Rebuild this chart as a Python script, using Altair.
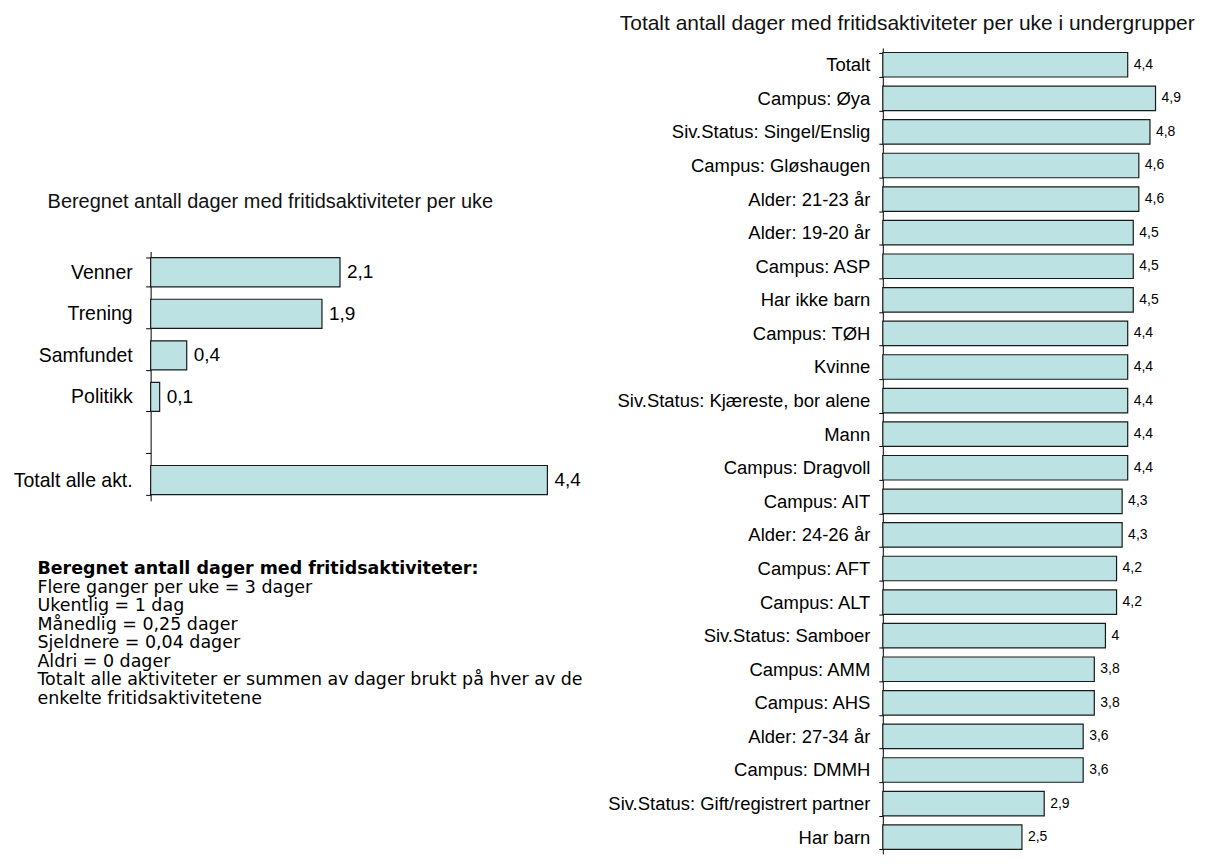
import altair as alt
import pandas as pd

# ---------------- data ----------------
left_cats = ["Venner", "Trening", "Samfundet", "Politikk", " ", "Totalt alle akt."]
left_vals = [2.1, 1.9, 0.4, 0.1, None, 4.4]

right_cats = [
    "Totalt", "Campus: Øya", "Siv.Status: Singel/Enslig", "Campus: Gløshaugen",
    "Alder: 21-23 år", "Alder: 19-20 år", "Campus: ASP", "Har ikke barn",
    "Campus: TØH", "Kvinne", "Siv.Status: Kjæreste, bor alene", "Mann",
    "Campus: Dragvoll", "Campus: AIT", "Alder: 24-26 år", "Campus: AFT",
    "Campus: ALT", "Siv.Status: Samboer", "Campus: AMM", "Campus: AHS",
    "Alder: 27-34 år", "Campus: DMMH", "Siv.Status: Gift/registrert partner", "Har barn",
]
right_vals = [4.4, 4.9, 4.8, 4.6, 4.6, 4.5, 4.5, 4.5, 4.4, 4.4, 4.4, 4.4, 4.4,
              4.3, 4.3, 4.2, 4.2, 4.0, 3.8, 3.8, 3.6, 3.6, 2.9, 2.5]

left_title = "Beregnet antall dager med fritidsaktiviteter per uke"
right_title = "Totalt antall dager med fritidsaktiviteter per uke i undergrupper"
notes_head = "Beregnet antall dager med fritidsaktiviteter:"
notes_lines = [
    "Flere ganger per uke = 3 dager",
    "Ukentlig = 1 dag",
    "Månedlig = 0,25 dager",
    "Sjeldnere = 0,04 dager",
    "Aldri = 0 dager",
    "Totalt alle aktiviteter er summen av dager brukt på hver av de",
    "enkelte fritidsaktivitetene",
]


def fmt(v):
    return f"{v:g}".replace(".", ",")


ldf = pd.DataFrame({"cat": [c for c, v in zip(left_cats, left_vals) if v is not None],
                    "val": [v for v in left_vals if v is not None]})
ldf["lbl"] = ldf["val"].map(fmt)
rdf = pd.DataFrame({"cat": right_cats, "val": right_vals})
rdf["lbl"] = rdf["val"].map(fmt)
one = pd.DataFrame({"k": [0]})

FONT = "Liberation Sans, Arial, sans-serif"
NOTE_FONT = "DejaVu Sans, Liberation Sans, sans-serif"
FILL = "#BCE2E3"
STROKE = "#1a1a1a"

L_W, R_W, H = 452, 279, 808
L_RANGE = [204, 454]
NOTE_SIZE = 17.5
NOTE_LH = 18.6

# ---------------- left chart ----------------
ly = alt.Y("cat:N", sort=left_cats,
           scale=alt.Scale(domain=left_cats, range=L_RANGE, paddingInner=0.3, paddingOuter=0.15),
           axis=alt.Axis(title=None, labelFontSize=19.5, labelFont=FONT, labelColor="black",
                         tickBand="extent", tickSize=5, labelPadding=13.5, domainColor="black",
                         tickColor="black", grid=False, labelLimit=0))
lx = alt.X("val:Q", scale=alt.Scale(domain=[0, 5], nice=False), axis=None)

lbars = alt.Chart(ldf).mark_bar(fill=FILL, stroke=STROKE, strokeWidth=1.2).encode(y=ly, x=lx)
lvals = alt.Chart(ldf).mark_text(align="left", baseline="middle", dx=7, fontSize=19,
                                 font=FONT, color="black").encode(y=ly, x=lx, text="lbl:N")
lsub = alt.Chart(one).mark_text(text=left_title, font=FONT, fontSize=20, align="center",
                                baseline="middle", color="#111").encode(
    x=alt.value(120), y=alt.value(154))
lhead = alt.Chart(one).mark_text(text=notes_head, font=NOTE_FONT, fontSize=NOTE_SIZE,
                                 fontWeight="bold", align="left", baseline="alphabetic",
                                 color="black").encode(
    x=alt.value(-113.5), y=alt.value(527.5))
lnotes = alt.Chart(one).mark_text(text="\n".join(notes_lines), lineBreak="\n", lineHeight=NOTE_LH,
                                  font=NOTE_FONT, fontSize=NOTE_SIZE, align="left",
                                  baseline="alphabetic", color="black").encode(
    x=alt.value(-113.5), y=alt.value(527.5 + NOTE_LH))

left = alt.layer(lbars, lvals, lsub, lhead, lnotes).properties(width=L_W, height=H)

# ---------------- right chart ----------------
ry = alt.Y("cat:N", sort=right_cats,
           scale=alt.Scale(domain=right_cats, paddingInner=0.27, paddingOuter=0.135),
           axis=alt.Axis(title=None, labelFontSize=18.5, labelFont=FONT, labelColor="black",
                         tickBand="extent", tickSize=4, labelPadding=9, domainColor="black",
                         tickColor="black", grid=False, labelLimit=0))
rx = alt.X("val:Q", scale=alt.Scale(domain=[0, 5], nice=False), axis=None)

rbars = alt.Chart(rdf).mark_bar(fill=FILL, stroke=STROKE, strokeWidth=1.2).encode(y=ry, x=rx)
rvals = alt.Chart(rdf).mark_text(align="left", baseline="middle", dx=6, fontSize=14,
                                 font=FONT, color="black").encode(y=ry, x=rx, text="lbl:N")
rtitle = alt.Chart(one).mark_text(text=right_title, font=FONT, fontSize=21, align="center",
                                  baseline="middle", color="#111").encode(
    x=alt.value(24.5), y=alt.value(-24))

right = alt.layer(rbars, rvals, rtitle).properties(width=R_W, height=H)

chart = alt.hconcat(
    left, right, spacing=282, bounds="flush",
    padding={"left": 5, "top": 4, "right": 5, "bottom": 1},
).configure_view(stroke=None)

chart.save("out.html", embed_options={"renderer": "svg", "actions": False})
